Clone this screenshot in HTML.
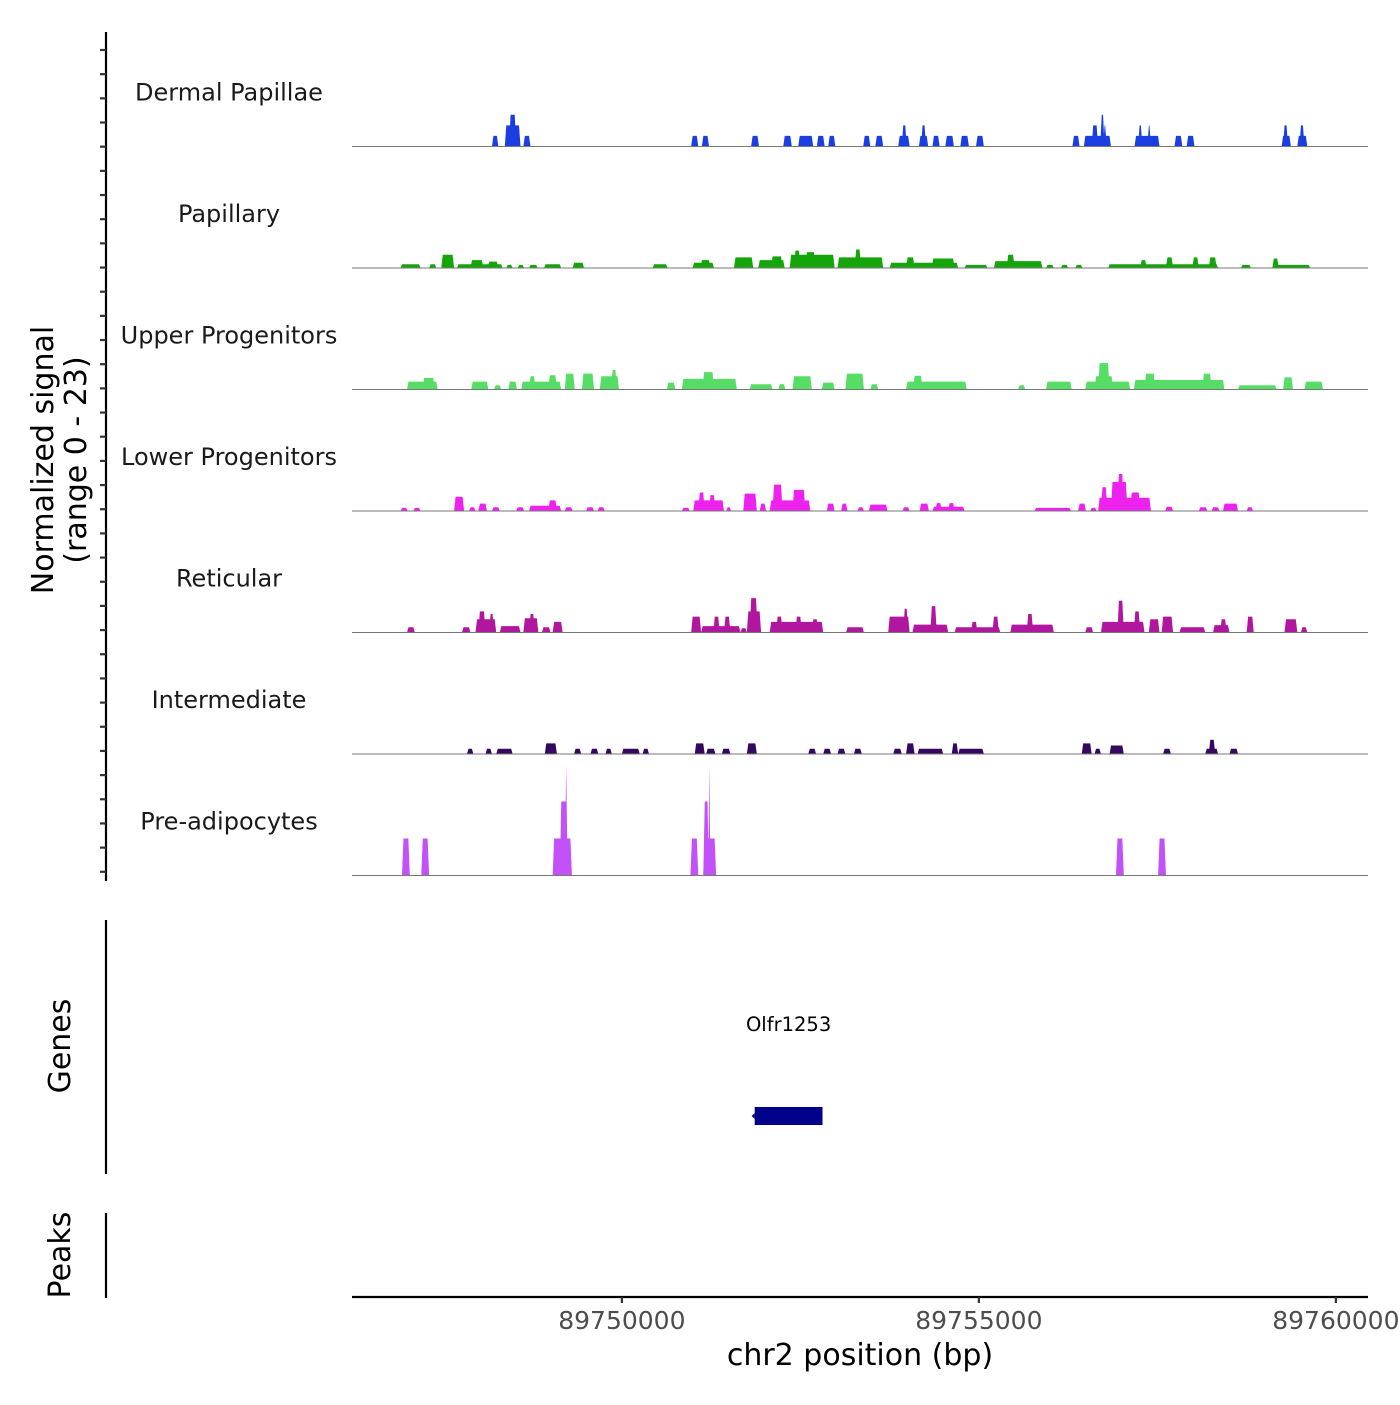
<!DOCTYPE html>
<html><head><meta charset="utf-8"><style>
html,body{margin:0;padding:0;background:#fff;}
svg text{font-family:"DejaVu Sans","Liberation Sans",sans-serif;}
</style></head><body>
<svg id="chart" width="1400" height="1400" viewBox="0 0 1400 1400" xmlns="http://www.w3.org/2000/svg">
<g id="tracks"></g>
<g id="axes"></g>
</svg>
<script>
// genomic positions in kb offset from 89,745,000
const BASE_BP = 89745000;
const X_DOMAIN = [1.22, 15.45]; // kb
const Y_MAX = 23;
const trackNames = ["Dermal Papillae","Papillary","Upper Progenitors","Lower Progenitors","Reticular","Intermediate","Pre-adipocytes"];
const trackColors = ["#1a3ee0","#14a50a","#55dd66","#ee22ee","#b0179e","#35085f","#c252f8"];
const xTicks = [89750000, 89755000, 89760000];
const xTickLabels = ["89750000","89755000","89760000"];
const geneNames = ["Olfr1253"];
const geneStarts = [6.86];
const geneEnds = [7.81];

// each segment: [startKb, endKb, signal]
const dermalPapillae = [[3.18,3.27,2],[3.36,3.58,4],[3.42,3.52,6],[3.62,3.72,2],[5.97,6.07,2],[6.12,6.22,2],[6.81,6.92,2],[7.26,7.38,2],[7.47,7.68,2],[7.73,7.84,2],[7.89,7.99,2],[8.38,8.48,2],[8.55,8.66,2],[8.87,9.03,2],[8.92,8.99,4],[9.16,9.29,2],[9.19,9.26,4],[9.35,9.45,2],[9.53,9.65,2],[9.74,9.86,2],[9.96,10.07,2],[11.31,11.41,2],[11.47,11.85,2],[11.58,11.67,4],[11.70,11.76,6],[11.74,11.79,4],[12.18,12.53,2],[12.23,12.29,4],[12.36,12.41,4],[12.74,12.85,2],[12.91,13.02,2],[14.24,14.37,2],[14.26,14.33,4],[14.46,14.60,2],[14.49,14.56,4]];
const papillary = [[1.90,2.18,0.7],[2.30,2.40,0.7],[2.47,2.65,2.5],[2.69,3.33,0.7],[2.88,3.06,1.5],[3.12,3.27,1.2],[3.38,3.47,0.6],[3.54,3.63,0.6],[3.70,3.82,0.6],[3.91,4.15,0.7],[4.31,4.47,1],[5.43,5.64,0.7],[5.99,6.29,1],[6.10,6.24,1.5],[6.57,6.84,2],[6.91,7.28,1.5],[7.09,7.25,2.2],[7.35,7.98,2.5],[7.41,7.50,3.3],[7.57,7.71,3],[8.02,8.66,2],[8.26,8.35,3.5],[8.75,9.71,1],[8.98,9.10,2],[9.34,9.66,1.8],[9.80,10.12,0.6],[10.21,10.89,1.3],[10.39,10.50,2.5],[10.94,11.05,0.6],[11.15,11.25,0.6],[11.35,11.45,0.6],[11.81,13.35,0.7],[12.26,12.35,1.5],[12.62,12.72,2],[12.99,13.08,2],[13.22,13.33,2],[13.67,13.81,0.6],[14.11,14.64,0.6],[14.11,14.20,1.8]];
const upperProgenitors = [[1.99,2.42,1.5],[2.21,2.38,2.2],[2.89,3.13,1.5],[3.21,3.31,0.8],[3.41,3.53,1.5],[3.59,4.15,1.5],[3.70,3.79,2.5],[3.97,4.09,2.7],[4.20,4.34,3],[4.44,4.61,3],[4.69,4.96,2.5],[4.85,4.93,3.7],[5.63,5.75,1.3],[5.84,6.61,2],[6.13,6.29,3.3],[6.79,7.11,1],[7.19,7.29,1],[7.39,7.66,2.5],[7.80,7.98,1.3],[8.13,8.39,3],[8.48,8.59,1],[8.98,9.83,1.5],[9.08,9.21,2.6],[10.55,10.65,0.8],[10.94,11.30,1.5],[11.49,12.12,1.5],[11.62,11.88,2.5],[11.67,11.83,5],[12.17,13.44,1.8],[12.32,12.47,3],[13.13,13.26,3],[13.63,14.17,0.8],[14.26,14.40,2.3],[14.56,14.82,1.5]];
const lowerProgenitors = [[1.90,2.00,0.6],[2.08,2.18,0.6],[2.65,2.79,2.7],[2.86,2.95,0.7],[2.99,3.11,1.4],[3.18,3.29,0.7],[3.52,3.63,0.7],[3.70,4.15,1],[3.97,4.09,2],[4.20,4.31,0.7],[4.50,4.61,0.7],[4.66,4.76,0.7],[5.84,5.95,0.6],[6.00,6.43,2],[6.07,6.16,3.5],[6.22,6.31,3],[6.46,6.53,0.7],[6.70,6.89,3.3],[6.93,7.02,1.4],[7.07,7.64,2],[7.11,7.25,5],[7.39,7.57,4],[7.87,7.98,1.4],[8.07,8.16,1.4],[8.30,8.39,0.7],[8.46,8.72,1.2],[8.93,9.03,0.7],[9.17,9.30,1.4],[9.35,9.80,0.8],[9.39,9.48,1.5],[9.57,9.66,1.5],[10.78,11.29,0.6],[11.39,11.50,1.4],[11.56,11.65,0.6],[11.67,12.41,2.5],[11.71,11.80,4.5],[11.85,12.08,5.5],[11.94,12.03,7],[12.12,12.26,3.5],[12.61,12.72,0.8],[13.08,13.20,0.7],[13.26,13.37,0.7],[13.42,13.63,1.4],[13.75,13.84,0.7]];
const reticular = [[1.99,2.10,1],[2.76,2.88,1],[2.95,3.24,2.5],[2.99,3.09,4],[3.14,3.21,3.5],[3.29,3.58,1.2],[3.62,3.83,2.7],[3.70,3.78,3.5],[3.88,4.00,1],[4.03,4.17,2],[5.97,6.11,3],[6.11,6.66,1.2],[6.28,6.37,3],[6.43,6.52,3],[6.66,6.75,0.8],[6.75,6.95,4],[6.79,6.90,6.5],[7.07,7.82,2],[7.16,7.25,3],[7.43,7.52,3],[7.66,7.75,2.5],[8.14,8.39,1],[8.73,9.03,3],[8.94,9.01,4.5],[9.07,9.57,1.5],[9.32,9.41,5],[9.66,10.30,1],[9.89,9.98,2],[10.19,10.28,3],[10.44,11.05,1.5],[10.67,10.76,3.5],[11.49,11.60,1],[11.71,12.32,2],[11.94,12.03,6],[12.17,12.26,4],[12.38,12.53,2.5],[12.56,12.72,3],[12.81,13.17,1],[13.28,13.51,1.4],[13.38,13.47,2.5],[13.75,13.85,3],[14.28,14.46,2.5],[14.51,14.60,1]];
const intermediate = [[2.83,2.92,1],[3.09,3.18,1],[3.24,3.47,1],[3.92,4.09,2],[4.33,4.43,1],[4.56,4.67,1],[4.77,4.86,1],[5.00,5.25,1],[5.29,5.38,1],[6.02,6.16,2],[6.18,6.31,1],[6.40,6.52,1],[6.75,6.89,2],[7.61,7.72,1],[7.82,7.93,1],[8.02,8.13,1],[8.25,8.36,1],[8.80,8.92,1],[8.98,9.10,2],[9.14,9.50,1],[9.62,9.71,2],[9.71,10.07,1],[11.44,11.58,2],[11.62,11.71,1],[11.83,12.03,1.6],[12.58,12.69,1],[13.17,13.35,1],[13.22,13.31,2.7],[13.51,13.63,1]];
const preAdipocytes = [[1.92,2.03,7],[2.19,2.30,7],[4.03,4.30,7],[4.13,4.24,14],[4.20,4.24,21],[5.96,6.07,7],[6.14,6.32,7],[6.14,6.22,14],[6.21,6.24,21],[11.92,12.03,7],[12.51,12.62,7]];
const trackData = [dermalPapillae,papillary,upperProgenitors,lowerProgenitors,reticular,intermediate,preAdipocytes];

const NS = "http://www.w3.org/2000/svg";
const PX0 = 352, PX1 = 1368;
const TRACK_TOP = 25, TRACK_H = 121.5;
function xScale(kb){ return PX0 + (kb - X_DOMAIN[0]) / (X_DOMAIN[1]-X_DOMAIN[0]) * (PX1-PX0); }
function baseline(i){ return TRACK_TOP + (i+1)*TRACK_H; }
function yScale(i, v){ return baseline(i) - v / Y_MAX * TRACK_H; }
function mk(tag, attrs, parent){ const e=document.createElementNS(NS,tag); for(const k in attrs) e.setAttribute(k,attrs[k]); parent.appendChild(e); return e; }

const tracks = document.getElementById('tracks');
const axes = document.getElementById('axes');

trackNames.forEach((name, i) => {
  const g = mk('g', {}, tracks);
  
  
  const lbl = mk('text', {x:229, y:baseline(i)-46, 'text-anchor':'middle', 'font-size':24, fill:'#1a1a1a'}, g);
  lbl.textContent = name;
  
  
  trackData[i].forEach(seg => {
    const x1 = xScale(seg[0]), x2 = xScale(seg[1]);
    const yb = baseline(i), yt = yScale(i, seg[2]);
    const s = Math.min(1.5, (x2-x1)/2);
    const p = mk('polygon', {points: `${x1},${yb} ${x1+s},${yt} ${x2-s},${yt} ${x2},${yb}`, fill: trackColors[i]}, g);
    
    
  });
  const bl = mk('line', {x1:PX0, x2:PX1, y1:baseline(i), y2:baseline(i), stroke:'#777', 'stroke-width':1}, g);
  
  
});

// left signal axis
const la = mk('line', {x1:106, x2:106, y1:32, y2:881, stroke:'#000', 'stroke-width':2.2}, axes);


for (let k=0; k<35; k++){
  const y = 50 + k*24.17;
  const t = mk('line', {x1:100, x2:106, y1:y, y2:y, stroke:'#333', 'stroke-width':2.2}, axes);
  
  
}
const yt1 = mk('text', {x:0, y:0, transform:'translate(53,460) rotate(-90)', 'text-anchor':'middle', 'font-size':30, fill:'#000'}, axes);
yt1.textContent = 'Normalized signal';


const yt2 = mk('text', {x:0, y:0, transform:'translate(86,460) rotate(-90)', 'text-anchor':'middle', 'font-size':30, fill:'#000'}, axes);
yt2.textContent = '(range 0 - 23)';



// genes panel
const ga = mk('line', {x1:106, x2:106, y1:920, y2:1174, stroke:'#000', 'stroke-width':2.2}, axes);


const gt = mk('text', {x:0, y:0, transform:'translate(70,1046) rotate(-90)', 'text-anchor':'middle', 'font-size':30, fill:'#000'}, axes);
gt.textContent = 'Genes';


geneNames.forEach((gn, j) => {
  const x1 = xScale(geneStarts[j]), x2 = xScale(geneEnds[j]);
  const r = mk('rect', {x:x1, y:1107, width:x2-x1, height:18, fill:'#00008b'}, axes);
  
  
  const tip = mk('polygon', {points:`${x1-3},1116 ${x1},1113 ${x1},1119`, fill:'#00008b'}, axes);
  
  
  const tl = mk('text', {x:(x1+x2)/2, y:1031, 'text-anchor':'middle', 'font-size':19.5, fill:'#000'}, axes);
  tl.textContent = gn;
  
  
});

// peaks panel
const pa = mk('line', {x1:106, x2:106, y1:1213, y2:1298, stroke:'#000', 'stroke-width':2.2}, axes);


const pt = mk('text', {x:0, y:0, transform:'translate(70,1255) rotate(-90)', 'text-anchor':'middle', 'font-size':30, fill:'#000'}, axes);
pt.textContent = 'Peaks';



// x axis
const xa = mk('line', {x1:PX0, x2:PX1, y1:1297, y2:1297, stroke:'#000', 'stroke-width':2.2}, axes);


xTicks.forEach((bp, j) => {
  const x = xScale((bp - BASE_BP)/1000);
  const t = mk('line', {x1:x, x2:x, y1:1297, y2:1303, stroke:'#333', 'stroke-width':2.2}, axes);
  
  
  const l = mk('text', {x:x, y:1329, 'text-anchor':'middle', 'font-size':25, fill:'#4d4d4d'}, axes);
  l.textContent = xTickLabels[j];
  
  
});
const xt = mk('text', {x:860, y:1365, 'text-anchor':'middle', 'font-size':30, fill:'#000'}, axes);
xt.textContent = 'chr2 position (bp)';


</script>
</body></html>
